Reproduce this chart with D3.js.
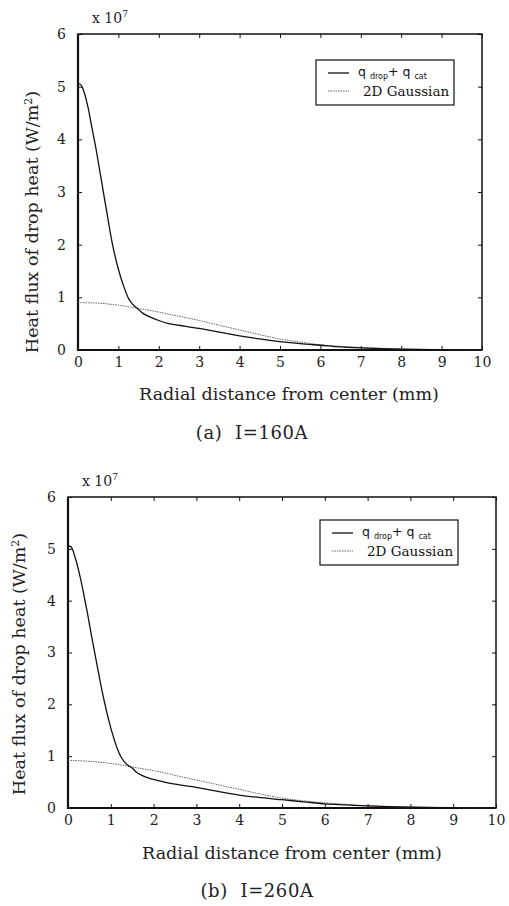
<!DOCTYPE html>
<html>
<head>
<meta charset="utf-8">
<script src="https://cdn.jsdelivr.net/npm/d3@7"></script>
<style>
  body { margin: 0; background: #fff; }
  svg { display: block; }
  text { white-space: pre; }
</style>
</head>
<body>
<div id="chart"></div>
<script>
// tick values
const xTicks = [0, 1, 2, 3, 4, 5, 6, 7, 8, 9, 10];
const yTicks = [0, 1, 2, 3, 4, 5, 6];

// (a) I=160A, heat flux in units of 1e7 W/m2
const dropRadiusA = [0, 0.05, 0.1, 0.15, 0.25, 0.35, 0.45, 0.55, 0.65, 0.75, 0.85, 0.95, 1.05, 1.15, 1.25, 1.35, 1.5, 1.6, 1.75, 2, 2.25, 2.5, 3, 3.5, 4, 4.5, 5, 5.5, 6, 6.5, 7, 7.5, 8, 9, 10];
const dropFluxA = [5.05, 5.05, 5.0, 4.9, 4.6, 4.2, 3.8, 3.35, 2.9, 2.45, 2.02, 1.68, 1.4, 1.17, 0.98, 0.87, 0.77, 0.7, 0.64, 0.56, 0.5, 0.47, 0.41, 0.34, 0.27, 0.21, 0.16, 0.12, 0.09, 0.06, 0.04, 0.025, 0.015, 0.005, 0];
const gaussRadiusA = [0, 0.5, 1, 1.5, 2, 2.5, 3, 3.5, 4, 4.5, 5, 5.5, 6, 6.5, 7, 8, 9, 10];
const gaussFluxA = [0.9, 0.89, 0.85, 0.79, 0.72, 0.64, 0.56, 0.47, 0.38, 0.29, 0.21, 0.15, 0.1, 0.07, 0.05, 0.02, 0.01, 0];

// (b) I=260A
const dropRadiusB = [0, 0.05, 0.1, 0.15, 0.25, 0.35, 0.45, 0.55, 0.65, 0.75, 0.85, 0.95, 1.05, 1.15, 1.25, 1.35, 1.5, 1.6, 1.75, 2, 2.25, 2.5, 3, 3.5, 4, 4.5, 5, 5.5, 6, 6.5, 7, 7.5, 8, 9, 10];
const dropFluxB = [5.05, 5.05, 5.0, 4.88, 4.58, 4.2, 3.78, 3.32, 2.88, 2.45, 2.05, 1.7, 1.4, 1.15, 0.97, 0.86, 0.77, 0.69, 0.62, 0.55, 0.5, 0.46, 0.4, 0.32, 0.25, 0.2, 0.16, 0.12, 0.08, 0.06, 0.04, 0.025, 0.015, 0.005, 0];
const gaussRadiusB = [0, 0.5, 1, 1.5, 2, 2.5, 3, 3.5, 4, 4.5, 5, 5.5, 6, 6.5, 7, 8, 9, 10];
const gaussFluxB = [0.92, 0.9, 0.86, 0.79, 0.72, 0.63, 0.54, 0.45, 0.36, 0.27, 0.19, 0.14, 0.1, 0.07, 0.04, 0.02, 0.01, 0];

const panels = [
  { drop: d3.zip(dropRadiusA, dropFluxA), gauss: d3.zip(gaussRadiusA, gaussFluxA),
    left: 78, right: 482, top: 34, bottom: 350,
    legend: [316, 60], ytitle: [38, 222], xtitle: [289, 400], caption: "(a)  I=160A", cap: [252, 439] },
  { drop: d3.zip(dropRadiusB, dropFluxB), gauss: d3.zip(gaussRadiusB, gaussFluxB),
    left: 68, right: 496, top: 497, bottom: 808,
    legend: [320, 520], ytitle: [25, 664], xtitle: [292, 859], caption: "(b)  I=260A", cap: [257, 897] }
];

const serif = "'DejaVu Serif', serif";
const sans = "'DejaVu Sans', sans-serif";

const svg = d3.select("#chart").append("svg")
  .attr("width", 509).attr("height", 906);

panels.forEach(p => {
  const x = d3.scaleLinear().domain([0, 10]).range([p.left, p.right]);
  const y = d3.scaleLinear().domain([0, 6]).range([p.bottom, p.top]);
  const g = svg.append("g");

  const styleAxis = (sel) => {
    sel.select(".domain").remove();
    sel.selectAll(".tick line").attr("stroke", "#111").attr("stroke-width", 1);
    sel.selectAll("text").attr("font-family", serif).attr("font-size", 14).attr("fill", "#222");
  };

  g.append("g").attr("transform", `translate(0,${p.bottom})`)
    .call(d3.axisBottom(x).tickValues(xTicks).tickSize(-4).tickPadding(7).tickFormat(d3.format("d")))
    .call(styleAxis);
  g.append("g").attr("transform", `translate(0,${p.top})`)
    .call(d3.axisTop(x).tickValues(xTicks).tickSize(-4).tickFormat(""))
    .call(styleAxis);
  g.append("g").attr("transform", `translate(${p.left},0)`)
    .call(d3.axisLeft(y).tickValues(yTicks).tickSize(-4).tickPadding(12).tickFormat(d3.format("d")))
    .call(styleAxis);
  g.append("g").attr("transform", `translate(${p.right},0)`)
    .call(d3.axisRight(y).tickValues(yTicks).tickSize(-4).tickFormat(""))
    .call(styleAxis);

  // frame
  g.append("rect")
    .attr("x", p.left).attr("y", p.top)
    .attr("width", p.right - p.left).attr("height", p.bottom - p.top)
    .attr("fill", "none").attr("stroke", "#111").attr("stroke-width", 1.5);
  g.append("path")
    .attr("d", `M${p.left},${p.top}V${p.bottom}H${p.right}`)
    .attr("fill", "none").attr("stroke", "#111").attr("stroke-width", 2.2);

  const line = d3.line().x(d => x(d[0])).y(d => y(d[1])).curve(d3.curveMonotoneX);

  g.append("path").datum(p.gauss).attr("d", line)
    .attr("fill", "none").attr("stroke", "#666").attr("stroke-width", 1)
    .attr("stroke-dasharray", "1.5,1");
  g.append("path").datum(p.drop).attr("d", line)
    .attr("fill", "none").attr("stroke", "#111").attr("stroke-width", 1.3);

  // exponent label
  const ex = g.append("text").attr("x", p.left + 14).attr("y", p.top - 11)
    .attr("font-family", serif).attr("font-size", 14).attr("fill", "#222");
  ex.append("tspan").text("x 10");
  ex.append("tspan").attr("dy", -6).attr("font-size", 9).text("7");

  // legend
  const [lx, ly] = p.legend;
  const lg = g.append("g").attr("transform", `translate(${lx},${ly})`);
  lg.append("rect").attr("width", 138).attr("height", 45)
    .attr("fill", "#fff").attr("stroke", "#111").attr("stroke-width", 1.2);
  lg.append("line").attr("x1", 12).attr("x2", 33).attr("y1", 13).attr("y2", 13)
    .attr("stroke", "#111").attr("stroke-width", 1.3);
  lg.append("line").attr("x1", 12).attr("x2", 33).attr("y1", 31).attr("y2", 31)
    .attr("stroke", "#666").attr("stroke-width", 1).attr("stroke-dasharray", "1.5,1");
  const t1 = lg.append("text").attr("x", 42).attr("y", 16)
    .attr("font-family", sans).attr("font-size", 12.5).attr("fill", "#111");
  t1.append("tspan").text("q ");
  t1.append("tspan").attr("font-size", 8).attr("dy", 3).text("drop");
  t1.append("tspan").attr("dy", -3).text("+ q ");
  t1.append("tspan").attr("font-size", 8).attr("dy", 3).text("cat");
  lg.append("text").attr("x", 47).attr("y", 36)
    .attr("font-family", serif).attr("font-size", 13.5).attr("fill", "#111")
    .text("2D Gaussian");

  // axis titles
  const yt = g.append("text")
    .attr("transform", `translate(${p.ytitle[0]},${p.ytitle[1]}) rotate(-90)`)
    .attr("text-anchor", "middle")
    .attr("font-family", serif).attr("font-size", 17.5).attr("fill", "#222");
  yt.append("tspan").text("Heat flux of drop heat (W/m");
  yt.append("tspan").attr("dy", -6).attr("font-size", 11).text("2");
  yt.append("tspan").attr("dy", 6).text(")");

  g.append("text").attr("x", p.xtitle[0]).attr("y", p.xtitle[1])
    .attr("text-anchor", "middle")
    .attr("font-family", serif).attr("font-size", 17.5).attr("fill", "#222")
    .text("Radial distance from center (mm)");

  g.append("text").attr("x", p.cap[0]).attr("y", p.cap[1])
    .attr("text-anchor", "middle")
    .attr("font-family", serif).attr("font-size", 18).attr("letter-spacing", 0.6).attr("fill", "#222")
    .text(p.caption);
});
</script>
</body>
</html>
